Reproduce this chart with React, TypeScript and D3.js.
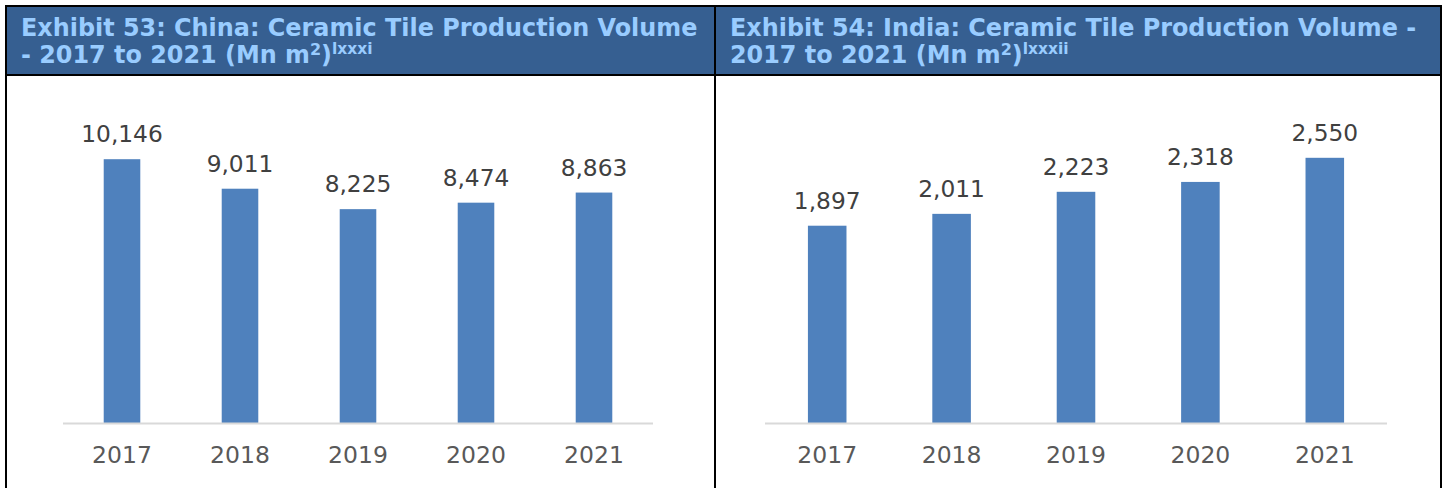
import React from 'react';
import * as d3 from 'd3';

const years = ['2017', '2018', '2019', '2020', '2021'];
const chinaValues = [10146, 9011, 8225, 8474, 8863];
const indiaValues = [1897, 2011, 2223, 2318, 2550];
const chinaMax = 12000;
const indiaMax = 3000;

const W = 1447;
const H = 488;
const FONT = "'DejaVu Sans', Verdana, sans-serif";

function Panel({ values, yMax, x0, x1 }: { values: number[]; yMax: number; x0: number; x1: number }) {
    const xScale = d3.scaleBand().domain(years).range([x0, x1]).paddingInner(0.69).paddingOuter(0.345);
    const yScale = d3.scaleLinear().domain([0, yMax]).range([423, 111]);
    const fmt = d3.format(',');

    return (
        <g>
            {values.map((v, i) => {
                const x = xScale(years[i]) as number;
                return (
                    <rect key={i} x={x} y={yScale(v)} width={xScale.bandwidth()} height={yScale(0) - yScale(v)} fill="#4f81bd" />
                );
            })}
            <line x1={x0} x2={x1} y1={yScale(0) + 0.5} y2={yScale(0) + 0.5} stroke="#d9d9d9" strokeWidth={2} />
            {values.map((v, i) => (
                <text key={i} x={(xScale(years[i]) as number) + xScale.bandwidth() / 2} y={yScale(v) - 17}
                    textAnchor="middle" fontSize={23.3} fill="#404040">{fmt(v)}</text>
            ))}
            {years.map((y) => (
                <text key={y} x={(xScale(y) as number) + xScale.bandwidth() / 2} y={463}
                    textAnchor="middle" fontSize={23.5} fill="#595959">{y}</text>
            ))}
        </g>
    );
}

function Title({ x, line1, line2, note }: { x: number; line1: string; line2: string; note: string }) {
    return (
        <g fill="#99ccff" fontWeight="bold" fontSize={23.9}>
            <text x={x} y={36}>{line1}</text>
            <text x={x} y={63}>
                {line2}
                <tspan fontSize={16} dy={-8}>2</tspan>
                <tspan dy={8}>)</tspan>
                <tspan fontSize={15.5} dy={-9}>{note}</tspan>
            </text>
        </g>
    );
}

export default function App() {
    return (
        <svg width={W} height={H} style={{ position: 'absolute', left: 0, top: 0 }} fontFamily={FONT}>
            <rect x={0} y={0} width={W} height={H} fill="#ffffff" />
            <rect x={6} y={6} width={1435} height={69} fill="#365f91" />
            <Title x={21} line1="Exhibit 53: China: Ceramic Tile Production Volume" line2="- 2017 to 2021 (Mn m" note="lxxxi" />
            <Title x={730} line1="Exhibit 54: India: Ceramic Tile Production Volume -" line2="2017 to 2021 (Mn m" note="lxxxii" />
            <line x1={5} x2={1442} y1={6} y2={6} stroke="#000" strokeWidth={2} />
            <line x1={5} x2={1442} y1={75} y2={75} stroke="#000" strokeWidth={2} />
            <line x1={6} x2={6} y1={5} y2={H} stroke="#000" strokeWidth={2} />
            <line x1={715} x2={715} y1={5} y2={H} stroke="#000" strokeWidth={2} />
            <line x1={1441} x2={1441} y1={5} y2={H} stroke="#000" strokeWidth={2} />
            <Panel values={chinaValues} yMax={chinaMax} x0={63} x1={653} />
            <Panel values={indiaValues} yMax={indiaMax} x0={765} x1={1387} />
        </svg>
    );
}
